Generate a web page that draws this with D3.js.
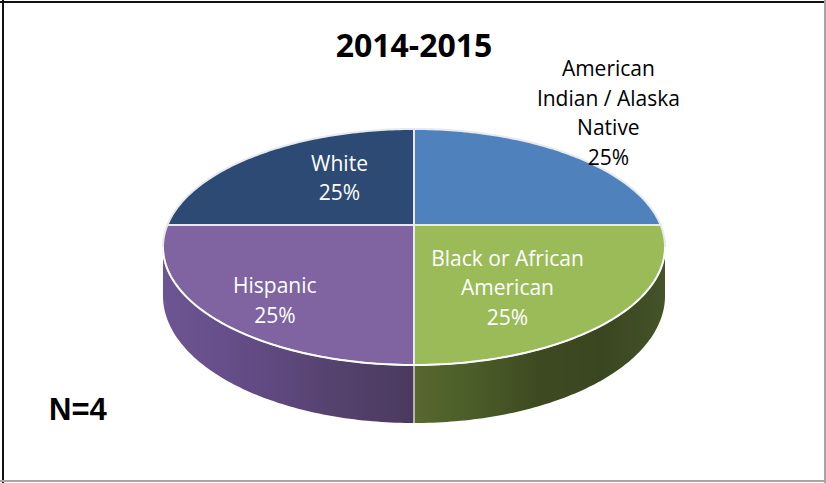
<!DOCTYPE html>
<html>
<head>
<meta charset="utf-8">
<script src="https://cdn.jsdelivr.net/npm/d3@7"></script>
<style>
  html, body { margin: 0; padding: 0; background: #ffffff; }
  svg { display: block; }
</style>
</head>
<body>
<svg id="chart" width="826" height="483"></svg>
<script>
// ---- data ----
const chartTitle = "2014-2015";
const categories = ["American Indian / Alaska Native", "Black or African American", "Hispanic", "White"];
const labelLines = [["American", "Indian / Alaska", "Native"], ["Black or African", "American"], ["Hispanic"], ["White"]];
const counts = [1, 1, 1, 1];
const sampleNote = "N=4";

// ---- styling ----
const sliceColors = ["#4f81bd", "#9bbb59", "#8064a2", "#2c4a73"];
const sideShades = [
  ["#3a5f8f", "#2c4a70"],
  ["#57692f", "#4a5c28", "#3d4a21", "#3a4620", "#44532a"],
  ["#6d5593", "#634c86", "#56426f", "#4a3a5f"],
  ["#22395a", "#1c2f4b"]
];
const labelInside = [false, true, true, true];
// label anchor: radius (fraction of pie radius) and angular nudge (degrees) from slice mid-angle
const labelLayout = [[1.544, -6.3], [0.607, 10.5], [0.775, -4.6], [0.554, 8.8]];

// ---- pie geometry (perspective-projected disc) ----
const geo = { cx: 414, cy: 225, a: 246.6, b: 113.9, k: -0.1864, depth: 47.2 };
function project(theta, r = 1, drop = 0) {
  const u = r * Math.sin(theta), v = -r * Math.cos(theta);
  const w = 1 + geo.k * v;
  return [geo.cx + geo.a * u / w, geo.cy + (geo.b * v + drop) / w];
}
function arcPoints(t0, t1, drop = 0, n = 90) {
  const pts = [];
  for (let i = 0; i <= n; i++) pts.push(project(t0 + (t1 - t0) * i / n, 1, drop));
  return pts;
}
// silhouette angles where the projected rim is widest
const vs = -geo.k, us = Math.sqrt(1 - vs * vs);
const silR = Math.atan2(us, -vs);                 // right side
const silL = 2 * Math.PI - silR;                  // left side

const svg = d3.select("#chart");
const defs = svg.append("defs");
const color = d3.scaleOrdinal().domain(categories).range(sliceColors);
const total = d3.sum(counts);
const pct = d3.format(".0%");

const pie = d3.pie().sort(null).value(d => d.value);
const arcs = pie(categories.map((c, i) => ({ name: c, value: counts[i], idx: i })));

// chart frame
svg.append("rect").attr("x", 0).attr("y", 0).attr("width", 826).attr("height", 483).attr("fill", "#ffffff");
svg.append("line").attr("x1", 0).attr("x2", 826).attr("y1", 2).attr("y2", 2).attr("stroke", "#111").attr("stroke-width", 2);
svg.append("line").attr("x1", 3).attr("x2", 3).attr("y1", 0).attr("y2", 483).attr("stroke", "#111").attr("stroke-width", 2);
svg.append("line").attr("x1", 825).attr("x2", 825).attr("y1", 0).attr("y2", 483).attr("stroke", "#a6a6a6").attr("stroke-width", 2);
svg.append("line").attr("x1", 0).attr("x2", 826).attr("y1", 481).attr("y2", 481).attr("stroke", "#a6a6a6").attr("stroke-width", 2);

const line = d3.line();

// side walls for the front-facing part of each slice
const sideG = svg.append("g");
arcs.forEach(d => {
  const t0 = Math.max(d.startAngle, silR), t1 = Math.min(d.endAngle, silL);
  if (t1 <= t0) return;
  const top = arcPoints(t0, t1, 0);
  const bottom = arcPoints(t0, t1, geo.depth).reverse();
  const xs = top.map(p => p[0]);
  const gid = "side" + d.data.idx;
  const lg = defs.append("linearGradient").attr("id", gid)
    .attr("gradientUnits", "userSpaceOnUse")
    .attr("x1", d3.min(xs)).attr("x2", d3.max(xs)).attr("y1", 0).attr("y2", 0);
  let shades = sideShades[d.data.idx];
  // gradient runs left to right; the left-hand slice darkens toward the centre
  shades.forEach((c, i) => lg.append("stop").attr("offset", i / (shades.length - 1)).attr("stop-color", c));
  sideG.append("path").attr("d", line(top.concat(bottom)) + "Z").attr("fill", `url(#${gid})`);
});
// seam between the side walls at the front
const f0 = project(Math.PI, 1, 0), f1 = project(Math.PI, 1, geo.depth);
sideG.append("line").attr("x1", f0[0]).attr("x2", f1[0]).attr("y1", f0[1]).attr("y2", f1[1])
  .attr("stroke", "#d9d9d9").attr("stroke-width", 1.5);

// top faces
const topG = svg.append("g");
arcs.forEach(d => {
  const pts = [[geo.cx, geo.cy]].concat(arcPoints(d.startAngle, d.endAngle, 0));
  topG.append("path").attr("d", line(pts) + "Z")
    .attr("fill", color(d.data.name))
    .attr("stroke", "#e6e9ee").attr("stroke-width", 2).attr("stroke-linejoin", "round");
});
// highlight along the front rim
svg.append("path").attr("d", line(arcPoints(silR, silL, 0)))
  .attr("fill", "none").attr("stroke", "#ffffff").attr("stroke-width", 1.6);

// slice labels
const lineGap = 29.5, capH = 15;
const labelG = svg.append("g").attr("font-family", "'Open Sans', 'Noto Sans', sans-serif").attr("font-size", 21);
arcs.forEach(d => {
  const i = d.data.idx;
  const [r, nudge] = labelLayout[i];
  const mid = (d.startAngle + d.endAngle) / 2 + nudge * Math.PI / 180;
  const [lx, ly] = project(mid, r, 0);
  const lines = labelLines[i].concat([pct(d.data.value / total)]);
  const firstBase = ly - (lines.length - 1) * lineGap / 2 + capH / 2;
  const t = labelG.append("text").attr("text-anchor", "middle")
    .attr("fill", labelInside[i] ? "#ffffff" : "#000000");
  lines.forEach((s, j) => t.append("tspan").attr("x", lx).attr("y", firstBase + j * lineGap).text(s));
});

// title
svg.append("text").attr("x", 414).attr("y", 57).attr("text-anchor", "middle")
  .attr("font-family", "'Open Sans', sans-serif").attr("font-weight", 700).attr("font-size", 32)
  .attr("fill", "#000").text(chartTitle);

// sample size note
svg.append("text").attr("x", 49).attr("y", 420)
  .attr("font-family", "'Liberation Sans', Arial, sans-serif").attr("font-weight", 700).attr("font-size", 31)
  .attr("fill", "#000").text(sampleNote);
</script>
</body>
</html>
